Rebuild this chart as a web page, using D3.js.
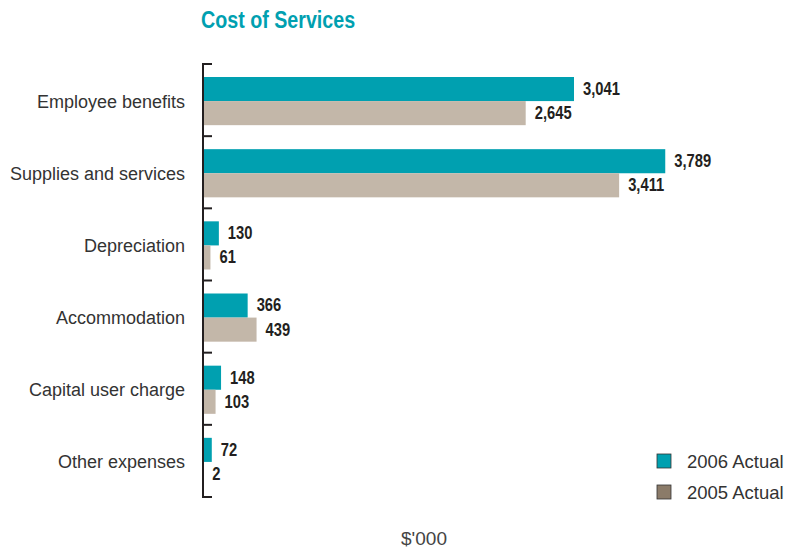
<!DOCTYPE html>
<html>
<head>
<meta charset="utf-8">
<script src="https://cdn.jsdelivr.net/npm/d3@7"></script>
<style>
  html, body { margin: 0; padding: 0; background: #fff; }
  svg { display: block; }
</style>
</head>
<body>
<svg id="chart" width="791" height="549"></svg>
<script>
// Cost of Services, $'000
const categories = ["Employee benefits", "Supplies and services", "Depreciation",
                    "Accommodation", "Capital user charge", "Other expenses"];
const seriesNames = ["2006 Actual", "2005 Actual"];
const actual2006 = [3041, 3789, 130, 366, 148, 72];
const actual2005 = [2645, 3411, 61, 439, 103, 2];

const barColors = ["#00a0b0", "#c3b7a9"];
const legendColors = ["#00a0b0", "#8b7b69"];

const svg = d3.select("#chart");
const plotLeft = 203, plotTop = 64, plotBottom = 497;
const condensed = 0.82; // horizontal squeeze for the condensed bold type

const y = d3.scaleBand().domain(categories).range([plotTop, plotBottom]).paddingInner(0).paddingOuter(0);
const inner = d3.scaleBand().domain(seriesNames).range([13, y.bandwidth() - 11]).padding(0);
const x = d3.scaleLinear().domain([0, 3041]).range([plotLeft, 574]);

// Title
svg.append("text")
  .attr("transform", `translate(201,28) scale(${condensed},1)`)
  .attr("font-family", "'Liberation Sans', Arial, sans-serif")
  .attr("font-weight", "bold")
  .attr("font-size", 24)
  .attr("fill", "#00a0b0")
  .text("Cost of Services");

// Bars
const rows = categories.map((c, i) => ({ cat: c, vals: [actual2006[i], actual2005[i]] }));
const groups = svg.append("g").selectAll("g").data(rows).join("g")
  .attr("transform", d => `translate(0,${y(d.cat)})`);

groups.selectAll("rect").data(d => d.vals.map((v, j) => ({ v, s: seriesNames[j], j })))
  .join("rect")
  .attr("x", x(0))
  .attr("y", d => inner(d.s))
  .attr("width", d => x(d.v) - x(0))
  .attr("height", inner.bandwidth())
  .attr("fill", d => barColors[d.j]);

const fmt = d3.format(",");
groups.selectAll("text.val").data(d => d.vals.map((v, j) => ({ v, s: seriesNames[j], j })))
  .join("text")
  .attr("class", "val")
  .attr("transform", d => `translate(${x(d.v) + 9},${inner(d.s) + inner.bandwidth() / 2}) scale(${condensed},1)`)
  .attr("dy", "0.33em")
  .attr("font-family", "'Liberation Sans', Arial, sans-serif")
  .attr("font-weight", "bold")
  .attr("font-size", 18)
  .attr("fill", "#231f20")
  .text(d => fmt(d.v));

// Category axis
const axis = svg.append("g").attr("transform", `translate(${plotLeft},0)`)
  .call(d3.axisLeft(y).tickSize(0).tickPadding(18).tickValues(categories));
axis.select(".domain").remove();
axis.selectAll("text")
  .attr("dy", "0.42em")
  .attr("font-family", "'Liberation Sans', Arial, sans-serif")
  .attr("font-size", 18)
  .attr("fill", "#333");

// Axis spine and band separators
svg.append("line")
  .attr("x1", plotLeft).attr("x2", plotLeft)
  .attr("y1", plotTop).attr("y2", plotBottom)
  .attr("stroke", "#231f20").attr("stroke-width", 2);
const edges = categories.map(c => y(c)).concat([plotBottom]);
svg.append("g").selectAll("line").data(edges).join("line")
  .attr("x1", plotLeft - 1).attr("x2", plotLeft + 9)
  .attr("y1", d => d).attr("y2", d => d)
  .attr("stroke", "#231f20").attr("stroke-width", 2);

// Legend
const legend = svg.append("g").selectAll("g").data(seriesNames).join("g")
  .attr("transform", (d, i) => `translate(657,${454 + i * 31})`);
legend.append("rect")
  .attr("width", 14).attr("height", 14)
  .attr("fill", (d, i) => legendColors[i])
  .attr("stroke", "#333").attr("stroke-width", 0.8);
legend.append("text")
  .attr("x", 30).attr("y", 7).attr("dy", "0.36em")
  .attr("font-family", "'Liberation Sans', Arial, sans-serif")
  .attr("font-size", 18.5)
  .attr("fill", "#333")
  .text(d => d);

// Unit label
svg.append("text")
  .attr("x", 424).attr("y", 545)
  .attr("text-anchor", "middle")
  .attr("font-family", "'Liberation Sans', Arial, sans-serif")
  .attr("font-size", 19)
  .attr("fill", "#444")
  .text("$'000");
</script>
</body>
</html>
